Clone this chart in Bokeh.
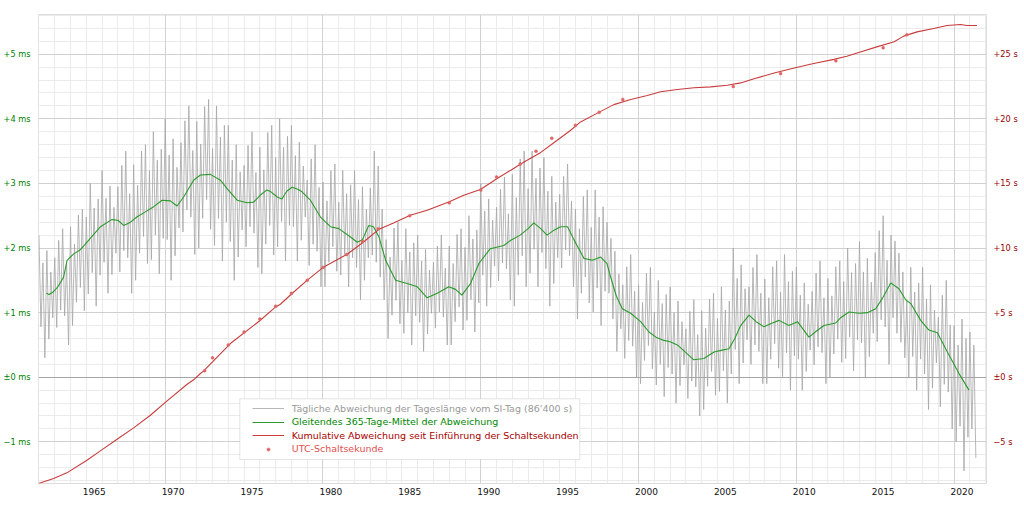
import numpy as np
from bokeh.plotting import figure
from bokeh.models import (Range1d, LinearAxis, FixedTicker, CustomJSTickFormatter, Grid,
                          Legend, LegendItem, BoxAnnotation)
from bokeh.embed import file_html
from bokeh.resources import INLINE

# ---------------- data ----------------
# daily length-of-day excess (ms), sampled 8x per year starting 1962.0
lod_start = 1962.0
lod_step = 0.125
lod_ms = [
    2.20, 0.78, 1.77, 0.30, 1.96, 0.59, 1.63, 0.92,   # 1962
    1.85, 0.77, 2.12, 1.04, 2.30, 0.95, 1.76, 0.50,   # 1963
    2.33, 0.80, 2.06, 1.16, 2.51, 1.39, 2.60, 1.03,   # 1964
    2.48, 1.29, 3.00, 1.62, 2.62, 1.10, 2.76, 1.58,   # 1965
    3.20, 1.78, 2.77, 1.30, 2.96, 1.59, 2.63, 1.92,   # 1966
    2.95, 1.63, 3.28, 1.96, 3.50, 1.85, 2.84, 1.30,   # 1967
    3.29, 1.50, 2.97, 1.92, 3.50, 2.18, 3.60, 1.76,   # 1968
    3.20, 1.82, 3.80, 2.20, 3.36, 1.60, 3.53, 2.15,   # 1969
    4.00, 2.13, 3.44, 1.50, 3.69, 1.88, 3.25, 2.31,   # 1970
    3.63, 2.25, 3.97, 2.59, 4.20, 2.48, 3.51, 1.90,   # 1971
    3.96, 2.00, 3.61, 2.46, 4.19, 2.75, 4.30, 2.29,   # 1972
    3.54, 2.04, 4.20, 2.46, 3.72, 1.80, 3.90, 2.40,   # 1973
    3.90, 2.10, 3.36, 1.50, 3.60, 1.86, 3.18, 2.28,   # 1974
    3.28, 2.02, 3.59, 2.33, 3.80, 2.23, 3.17, 1.70,   # 1975
    3.56, 1.60, 3.21, 2.06, 3.79, 2.35, 3.90, 1.89,   # 1976
    3.40, 2.02, 4.00, 2.41, 3.56, 1.80, 3.73, 2.35,   # 1977
    3.90, 2.33, 3.43, 1.80, 3.64, 2.12, 3.27, 2.48,   # 1978
    3.05, 1.73, 3.38, 2.06, 3.60, 1.95, 2.94, 1.40,   # 1979
    3.02, 1.40, 2.73, 1.78, 3.20, 2.02, 3.30, 1.64,   # 1980
    2.71, 1.58, 3.20, 1.90, 2.84, 1.40, 2.98, 1.85,   # 1981
    3.20, 1.70, 2.75, 1.20, 2.95, 1.50, 2.60, 1.85,   # 1982
    2.93, 1.89, 3.50, 1.78, 3.27, 1.55, 2.60, 1.20,   # 1983
    2.13, 0.60, 1.86, 0.96, 2.31, 1.19, 2.40, 0.83,   # 1984
    1.81, 0.68, 2.30, 1.00, 1.94, 0.50, 2.08, 0.95,   # 1985
    2.20, 0.85, 1.80, 0.40, 1.98, 0.67, 1.66, 0.99,   # 1986
    1.78, 0.76, 2.03, 1.01, 2.20, 0.93, 1.69, 0.50,   # 1987
    2.03, 0.50, 1.76, 0.86, 2.21, 1.09, 2.30, 0.73,   # 1988
    2.01, 0.88, 2.50, 1.20, 2.14, 0.70, 2.28, 1.15,   # 1989
    3.00, 1.58, 2.57, 1.10, 2.76, 1.39, 2.43, 1.72,   # 1990
    2.63, 1.49, 2.91, 1.77, 3.10, 1.68, 2.53, 1.20,   # 1991
    3.14, 1.10, 2.78, 1.58, 3.38, 1.88, 3.50, 1.40,   # 1992
    2.92, 1.61, 3.50, 1.98, 3.08, 1.40, 3.24, 1.93,   # 1993
    3.40, 1.68, 2.88, 1.10, 3.11, 1.45, 2.71, 1.85,   # 1994
    2.83, 1.69, 3.11, 1.97, 3.30, 1.88, 2.73, 1.40,   # 1995
    2.60, 0.90, 2.30, 1.30, 2.80, 1.55, 2.90, 1.15,   # 1996
    2.32, 1.01, 2.90, 1.38, 2.48, 0.80, 2.64, 1.33,   # 1997
    2.40, 1.30, 2.15, 0.90, 1.95, 0.40, 1.60, 0.75,   # 1998
    1.43, 0.29, 1.71, 0.57, 1.90, 0.48, 1.33, 0.00,   # 1999
    1.43, -0.10, 1.16, 0.26, 1.61, 0.49, 1.70, 0.13,  # 2000
    1.01, -0.12, 1.50, 0.20, 1.14, -0.30, 1.28, 0.15, # 2001
    1.40, 0.05, 1.00, -0.40, 1.18, -0.13, 0.86, 0.19, # 2002
    0.75, -0.33, 1.02, -0.06, 1.20, -0.15, 0.66, -0.60,  # 2003
    1.03, -0.50, 0.76, -0.14, 1.21, 0.09, 1.30, -0.28,   # 2004
    0.91, -0.22, 1.40, 0.10, 1.04, -0.40, 1.18, 0.05,    # 2005
    2.00, 0.43, 1.53, -0.10, 1.74, 0.22, 1.37, 0.58,     # 2006
    1.40, 0.20, 1.70, 0.50, 1.90, 0.40, 1.30, -0.10,     # 2007
    1.52, -0.10, 1.23, 0.28, 1.71, 0.52, 1.80, 0.14,     # 2008
    1.32, 0.01, 1.90, 0.38, 1.48, -0.20, 1.64, 0.33,     # 2009
    1.70, 0.28, 1.27, -0.20, 1.46, 0.09, 1.13, 0.42,     # 2010
    1.33, 0.19, 1.61, 0.47, 1.80, 0.38, 1.23, -0.10,     # 2011
    1.53, 0.00, 1.26, 0.36, 1.71, 0.59, 1.80, 0.23,     # 2012
    1.48, 0.29, 2.00, 0.62, 1.62, 0.10, 1.76, 0.58,     # 2013
    2.10, 0.53, 1.63, 0.00, 1.84, 0.32, 1.47, 0.68,     # 2014
    1.93, 0.55, 2.27, 0.89, 2.50, 0.78, 1.81, 0.20,     # 2015
    2.20, 0.92, 2.11, 0.68, 1.92, 0.54, 1.63, 0.30,     # 2016
    1.18, -0.01, 1.70, 0.32, 1.32, -0.20, 1.46, 0.28,   # 2017
    1.70, 0.05, 1.21, -0.50, 1.43, -0.17, 1.04, 0.22,   # 2018
    0.93, -0.46, 1.27, -0.11, 1.50, -0.23, 0.81, -0.80, # 2019
    0.80, -1.00, 0.50, -0.76, 0.90, -1.45, 0.60, -0.93, # 2020
    0.70, -0.80, 0.50, -1.25,                           # 2021
]

# 365-day running mean (ms)
mean_year = [1962.46, 1962.65, 1962.9, 1963.2, 1963.56, 1963.78, 1964.2, 1964.6, 1964.9,
             1965.25, 1965.9, 1966.6, 1967.0, 1967.37, 1967.8, 1968.2, 1968.74, 1969.27,
             1969.8, 1970.33, 1970.75, 1971.17, 1971.8, 1972.23, 1972.86, 1973.5, 1973.92,
             1974.56, 1975.19, 1975.6, 1976.03, 1976.45, 1976.7, 1977.1, 1977.4, 1977.7,
             1978.04, 1978.4, 1978.67, 1979.2, 1979.84, 1980.47, 1981.0, 1981.74, 1982.17,
             1982.5, 1982.9, 1983.2, 1983.55, 1983.97, 1984.6, 1985.34, 1985.98, 1986.6,
             1987.24, 1987.97, 1988.4, 1988.8, 1989.35, 1989.88, 1990.6, 1991.46, 1991.9,
             1992.5, 1993.0, 1993.36, 1993.8, 1994.2, 1994.6, 1995.06, 1995.5, 1995.9,
             1996.54, 1997.07, 1997.6, 1998.0, 1998.23, 1998.6, 1998.97, 1999.5, 2000.13,
             2000.66, 2001.1, 2001.6, 2002.0, 2002.46, 2003.0, 2003.5, 2004.14, 2004.78,
             2005.3, 2005.73, 2006.1, 2006.47, 2007.0, 2007.5, 2007.95, 2008.4, 2008.9,
             2009.53, 2010.07, 2010.8, 2011.3, 2011.75, 2012.5, 2012.8, 2013.34, 2013.97,
             2014.5, 2015.03, 2015.45, 2015.98, 2016.5, 2016.93, 2017.25, 2017.88, 2018.4,
             2018.94, 2019.57, 2020.3, 2020.94]
mean_ms = [1.30, 1.28, 1.32, 1.40, 1.55, 1.81, 1.91, 1.97, 2.05,
           2.15, 2.33, 2.44, 2.43, 2.35, 2.40, 2.48, 2.56, 2.64,
           2.74, 2.73, 2.65, 2.79, 3.05, 3.13, 3.14, 3.05, 2.92,
           2.74, 2.70, 2.71, 2.82, 2.90, 2.87, 2.79, 2.76, 2.88,
           2.94, 2.91, 2.87, 2.74, 2.48, 2.33, 2.30, 2.17, 2.09,
           2.13, 2.35, 2.33, 2.17, 1.81, 1.50, 1.45, 1.40, 1.23,
           1.30, 1.40, 1.36, 1.27, 1.45, 1.76, 1.99, 2.04, 2.12,
           2.20, 2.30, 2.39, 2.30, 2.20, 2.27, 2.33, 2.33, 2.13,
           1.84, 1.81, 1.86, 1.76, 1.55, 1.25, 1.06, 0.99, 0.86,
           0.70, 0.62, 0.57, 0.55, 0.50, 0.38, 0.27, 0.29, 0.39,
           0.42, 0.44, 0.60, 0.80, 0.96, 0.85, 0.78, 0.83, 0.88,
           0.80, 0.86, 0.62, 0.72, 0.80, 0.84, 0.92, 1.01, 0.99,
           1.00, 1.06, 1.22, 1.46, 1.37, 1.20, 1.14, 0.88, 0.73,
           0.69, 0.39, 0.06, -0.20]

# cumulative deviation (s)
cum_year = [1961.97, 1962.93, 1963.77, 1965.04, 1965.89, 1966.95, 1968.0, 1969.06, 1970.12,
            1971.39, 1971.8, 1972.23, 1972.44, 1974.13, 1976.03, 1977.0, 1977.3, 1978.04,
            1978.99, 1980.05, 1981.53, 1982.57, 1983.52, 1984.47, 1985.53, 1986.6, 1987.97,
            1988.92, 1989.98, 1991.04, 1991.9, 1992.74, 1993.8, 1994.8, 1995.68, 1996.32,
            1997.48, 1998.43, 1999.5, 2000.55, 2001.4, 2002.46, 2003.51, 2004.57, 2005.63,
            2006.47, 2007.32, 2008.59, 2009.86, 2011.1, 2012.38, 2013.2, 2014.05, 2015.1,
            2016.2, 2016.8, 2017.65, 2018.7, 2019.55, 2020.4, 2020.8, 2021.45]
cum_s = [-8.22, -7.84, -7.40, -6.42, -5.70, -4.80, -3.92, -2.94, -1.83,
         -0.54, -0.20, 0.29, 0.49, 2.61, 4.41, 5.44, 5.65, 6.48,
         7.50, 8.54, 9.52, 10.47, 11.43, 11.94, 12.54, 12.93, 13.57,
         14.09, 14.53, 15.38, 16.02, 16.66, 17.40, 18.30, 19.10, 19.76,
         20.50, 21.10, 21.50, 21.80, 22.10, 22.27, 22.40, 22.47, 22.60,
         22.78, 23.10, 23.55, 23.94, 24.28, 24.60, 24.85, 25.18, 25.57,
         25.96, 26.40, 26.73, 26.99, 27.22, 27.30, 27.22, 27.22]

# UTC leap seconds
leap_year = [1972.5, 1973.0, 1974.0, 1975.0, 1976.0, 1977.0, 1978.0, 1979.0, 1980.0,
             1981.5, 1982.5, 1983.5, 1985.5, 1988.0, 1990.0, 1991.0, 1992.5, 1993.5,
             1994.5, 1996.0, 1997.5, 1999.0, 2006.0, 2009.0, 2012.5, 2015.5, 2017.0]
leap_s = [0.5, 1.5, 2.5, 3.5, 4.5, 5.5, 6.5, 7.5, 8.5, 9.5, 10.5, 11.5, 12.5, 13.5,
          14.5, 15.5, 16.5, 17.5, 18.5, 19.5, 20.5, 21.5, 22.5, 23.5, 24.5, 25.5, 26.5]

tick_years = [1965, 1970, 1975, 1980, 1985, 1990, 1995, 2000, 2005, 2010, 2015, 2020]
ms_ticks = [-1, 0, 1, 2, 3, 4, 5]
s_ticks = [-5, 0, 5, 10, 15, 20, 25]

labels = ["Tägliche Abweichung der Tageslänge vom SI-Tag (86'400 s)",
          "Gleitendes 365-Tage-Mittel der Abweichung",
          "Kumulative Abweichung seit Einführung der Schaltsekunden",
          "UTC-Schaltsekunde"]

# ---------------- figure ----------------
FONT = "DejaVu Sans"
p = figure(width=1024, height=505, output_backend="svg", toolbar_location=None,
           x_range=Range1d(1961.97, 2022.05), y_range=Range1d(-1.645, 5.615),
           min_border_left=38, min_border_right=38, min_border_top=14, min_border_bottom=22,
           background_fill_color="white", border_fill_color="white",
           outline_line_color="#dddddd")
p.extra_y_ranges = {"s": Range1d(-8.225, 28.075)}
p.xgrid.visible = False
p.ygrid.visible = False

# grids
x_minor = list(range(1962, 2023))
x_decade = [1970, 1980, 1990, 2000, 2010, 2020]
y_minor = [round(-1.6 + 0.2 * i, 2) for i in range(37)]
p.add_layout(Grid(dimension=0, ticker=FixedTicker(ticks=x_minor), grid_line_color="#ebebeb"))
p.add_layout(Grid(dimension=1, ticker=FixedTicker(ticks=y_minor), grid_line_color="#ebebeb"))
p.add_layout(Grid(dimension=0, ticker=FixedTicker(ticks=x_decade), grid_line_color="#d2d2d2"))
p.add_layout(Grid(dimension=1, ticker=FixedTicker(ticks=[-1, 1, 2, 3, 4, 5]), grid_line_color="#d0d0d0"))
p.add_layout(Grid(dimension=1, ticker=FixedTicker(ticks=[0]), grid_line_color="#a6a6a6"))

# axes
xa = p.xaxis[0]
xa.ticker = FixedTicker(ticks=[y + 0.5 for y in tick_years])
xa.formatter = CustomJSTickFormatter(code="return String(Math.floor(tick));")
ya = p.yaxis[0]
ya.ticker = FixedTicker(ticks=ms_ticks)
ya.formatter = CustomJSTickFormatter(code="""
const v = Math.round(tick);
if (v === 0) return "\u00b10 ms";
return (v > 0 ? "+" : "\u2212") + Math.abs(v) + " ms";
""")
ra = LinearAxis(y_range_name="s", ticker=FixedTicker(ticks=s_ticks))
ra.formatter = CustomJSTickFormatter(code="""
const v = Math.round(tick);
if (v === 0) return "\u00b10 s";
return (v > 0 ? "+" : "\u2212") + Math.abs(v) + " s";
""")
p.add_layout(ra, "right")

for ax in (xa, ya, ra):
    ax.axis_line_color = None
    ax.major_tick_line_color = None
    ax.minor_tick_line_color = None
    ax.major_tick_out = 0
    ax.major_tick_in = 0
    ax.major_label_text_font = FONT
xa.major_label_text_font_size = "9px"
xa.major_label_text_color = "#111111"
xa.major_label_standoff = 4
ya.major_label_text_font_size = "8.2px"
ya.major_label_text_color = "#008000"
ya.major_label_standoff = 8
ra.major_label_text_font_size = "8.2px"
ra.major_label_text_color = "#990000"
ra.major_label_standoff = 7

# glyphs
lod_x = lod_start + lod_step * np.arange(len(lod_ms))
r_daily = p.line(lod_x, lod_ms, line_color="#a6a6a6", line_width=1, line_alpha=0.8)
r_mean = p.line(mean_year, mean_ms, line_color="#2a9a2a", line_width=1.1)
r_cum = p.line(cum_year, cum_s, y_range_name="s", line_color="#c83c3c", line_width=1.1)
r_leap = p.scatter(leap_year, leap_s, y_range_name="s", size=3, marker="circle",
                   fill_color="#e06666", line_color="#e06666", line_width=0.5)

# legend
box = BoxAnnotation(left=201.3, right=541.3, bottom=24, top=84.7,
                    left_units="screen", right_units="screen",
                    bottom_units="screen", top_units="screen",
                    fill_color="white", fill_alpha=1.0,
                    line_color="#aaaaaa", line_width=1)
p.add_layout(box)

text_colors = ["#999999", "#008800", "#aa0000", "#e05050"]
rends = [r_daily, r_mean, r_cum, r_leap]
row_bottoms = [68.7, 55.2, 41.8, 28.4]
glyph_heights = [12, 12, 12, 8]
for lab, col, rend, yb, gh in zip(labels, text_colors, rends, row_bottoms, glyph_heights):
    lg = Legend(items=[LegendItem(label=lab, renderers=[rend])],
                location=(213.7, yb), padding=0, margin=0, spacing=0,
                glyph_width=32, glyph_height=gh, label_height=12, label_standoff=8,
                label_text_font=FONT, label_text_font_size="9.5px",
                label_text_color=col, border_line_color=None,
                background_fill_alpha=0.0)
    p.add_layout(lg)

open("out.html", "w").write(file_html(p, INLINE))
